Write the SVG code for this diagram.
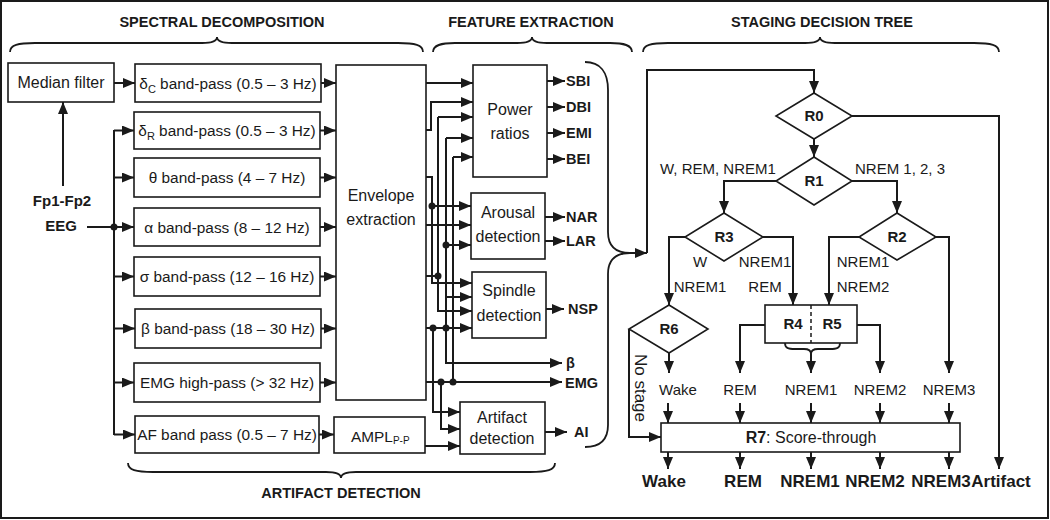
<svg xmlns="http://www.w3.org/2000/svg" width="1050" height="520" viewBox="0 0 1050 520">
<style>
.box{fill:#fff;stroke:#1a1a1a;stroke-width:1.6}
.ln{fill:none;stroke:#1a1a1a;stroke-width:2}
.br{fill:none;stroke:#1a1a1a;stroke-width:1.8}
.a{marker-end:url(#ah)}
.t{font-family:"Liberation Sans",Arial,sans-serif;font-size:16px;fill:#1a1a1a}
.bt{font-family:"Liberation Sans",Arial,sans-serif;font-size:15.4px;fill:#1a1a1a}
.ti{font-family:"Liberation Sans",Arial,sans-serif;font-size:14.5px;font-weight:bold;fill:#1a1a1a}
.o{font-family:"Liberation Sans",Arial,sans-serif;font-size:14.5px;font-weight:bold;fill:#1a1a1a}
.lb{font-family:"Liberation Sans",Arial,sans-serif;font-size:15px;fill:#1a1a1a}
.fb{font-family:"Liberation Sans",Arial,sans-serif;font-size:17px;font-weight:bold;fill:#1a1a1a}
.rb{font-family:"Liberation Sans",Arial,sans-serif;font-size:15px;font-weight:bold;fill:#1a1a1a}
.m{text-anchor:middle}
.dot{fill:#1a1a1a}
</style>
<defs>
<marker id="ah" markerUnits="userSpaceOnUse" markerWidth="12" markerHeight="10" refX="12" refY="5" orient="auto"><path d="M0,0 L12,5 L0,10 z" fill="#1a1a1a"/></marker>
</defs>
<rect x="1" y="1" width="1047" height="517" fill="#fff" stroke="#1a1a1a" stroke-width="2"/>

<g id="titles">
<text class="ti m" x="222" y="27">SPECTRAL DECOMPOSITION</text>
<text class="ti m" x="531" y="27">FEATURE EXTRACTION</text>
<text class="ti m" x="822" y="27">STAGING DECISION TREE</text>
<text class="ti m" x="341" y="498">ARTIFACT DETECTION</text>
<path class="br" d="M10,52 C10,45 18,43 35,43 L202,43 C212,43 217,41 217,37 C217,41 222,43 232,43 L398,43 C415,43 423,45 423,52"/>
<path class="br" d="M433,52 C433,45 441,43 455,43 L517,43 C527,43 532,41 532,37 C532,41 537,43 547,43 L610,43 C624,43 632,45 632,52"/>
<path class="br" d="M643,52 C643,45 651,43 668,43 L805,43 C815,43 820,41 820,37 C820,41 825,43 835,43 L974,43 C991,43 999,45 999,52"/>
<path class="br" d="M128,463 C128,470 136,472 153,472 L326,472 C336,472 341,474 341,478 C341,474 346,472 356,472 L530,472 C547,472 555,470 555,463"/>
<path class="br" d="M585,62 C600,62 608,72 608,90 L608,232 C608,246 616,253 630,253 C616,253 608,260 608,274 L608,425 C608,440 600,447 585,447"/>
</g>

<g id="inputs">
<text class="t" x="62" y="206" style="font-weight:bold;font-size:15px" text-anchor="middle">Fp1-Fp2</text>
<text class="t" x="61" y="231" style="font-weight:bold;font-size:15px" text-anchor="middle">EEG</text>
</g>

<g id="median"><rect class="box" x="8" y="63" width="106" height="39"/><text class="t m" x="61" y="88">Median filter</text></g>

<g id="bandC"><rect class="box" x="135" y="64" width="186" height="38"/><text class="bt m" x="228" y="88.5">δ<tspan font-size="11" dy="4">C</tspan><tspan dy="-4"> band-pass (0.5 – 3 Hz)</tspan></text></g>
<g id="bandR"><rect class="box" x="134" y="112" width="186" height="37"/><text class="bt m" x="227" y="136">δ<tspan font-size="11" dy="4">R</tspan><tspan dy="-4"> band-pass (0.5 – 3 Hz)</tspan></text></g>
<g id="theta"><rect class="box" x="134" y="158" width="186" height="39"/><text class="bt m" x="227" y="183">θ band-pass (4 – 7 Hz)</text></g>
<g id="alpha"><rect class="box" x="134" y="208" width="186" height="38"/><text class="bt m" x="227" y="232.5">α band-pass (8 – 12 Hz)</text></g>
<g id="sigma"><rect class="box" x="134" y="257" width="186" height="39"/><text class="bt m" x="227" y="282">σ band-pass (12 – 16 Hz)</text></g>
<g id="beta"><rect class="box" x="135" y="309" width="186" height="39"/><text class="bt m" x="228" y="334">β band-pass (18 – 30 Hz)</text></g>
<g id="emg"><rect class="box" x="134" y="363" width="186" height="39"/><text class="bt m" x="227" y="388">EMG high-pass (&gt; 32 Hz)</text></g>
<g id="af"><rect class="box" x="135" y="416" width="184" height="37"/><text class="bt m" x="227" y="440">AF band pass (0.5 – 7 Hz)</text></g>

<g id="envelope"><rect class="box" x="336" y="65" width="90" height="335"/><text class="t m" x="381" y="201">Envelope</text><text class="t m" x="381" y="225">extraction</text></g>
<g id="ampl"><rect class="box" x="334" y="417" width="91" height="36"/><text class="t" x="351" y="442" style="font-size:15.4px">AMPL<tspan font-size="10" dy="2">P-P</tspan></text></g>

<g id="power"><rect class="box" x="473" y="65" width="74" height="112"/><text class="t m" x="510" y="115">Power</text><text class="t m" x="510" y="139">ratios</text></g>
<g id="arousal"><rect class="box" x="471" y="193" width="74" height="66"/><text class="t m" x="508" y="218">Arousal</text><text class="t m" x="508" y="242">detection</text></g>
<g id="spindle"><rect class="box" x="472" y="272" width="74" height="66"/><text class="t m" x="509" y="296">Spindle</text><text class="t m" x="509" y="321">detection</text></g>
<g id="artifact"><rect class="box" x="460" y="402" width="85" height="52"/><text class="t m" x="502" y="423">Artifact</text><text class="t m" x="502" y="444">detection</text></g>

<g id="outputs">
<text class="o" x="566" y="86">SBI</text>
<text class="o" x="566" y="112">DBI</text>
<text class="o" x="566" y="138">EMI</text>
<text class="o" x="566" y="164">BEI</text>
<text class="o" x="566" y="222">NAR</text>
<text class="o" x="566" y="246">LAR</text>
<text class="o" x="568" y="314">NSP</text>
<text class="o" x="566" y="368">β</text>
<text class="o" x="565" y="388">EMG</text>
<text class="o" x="574" y="437">AI</text>
</g>

<g id="R0"><polygon class="box" points="814,93 852,116 814,139 776,116"/><text class="rb m" x="814" y="121">R0</text></g>
<g id="R1"><polygon class="box" points="814,157 852,181 814,205 776,181"/><text class="rb m" x="814" y="186">R1</text></g>
<g id="R3"><polygon class="box" points="724,213 763,237 724,261 685,237"/><text class="rb m" x="724" y="242">R3</text></g>
<g id="R2"><polygon class="box" points="897,213 936,237 897,260 859,237"/><text class="rb m" x="897" y="242">R2</text></g>
<g id="R6"><polygon class="box" points="669,305 708,329 669,353 629,329"/><text class="rb m" x="669" y="334">R6</text></g>
<g id="R45"><rect class="box" x="765" y="305" width="92" height="38"/><line x1="811" y1="305" x2="811" y2="343" stroke="#1a1a1a" stroke-width="1.5" stroke-dasharray="4,3"/><text class="rb m" x="793" y="329">R4</text><text class="rb m" x="832" y="329">R5</text></g>
<g id="R7"><rect class="box" x="661" y="423" width="299" height="29"/><text class="t m" x="811" y="443"><tspan font-weight="bold">R7</tspan>: Score-through</text></g>

<g id="tree-labels">
<text class="lb" x="660" y="174">W, REM, NREM1</text>
<text class="lb" x="855" y="174">NREM 1, 2, 3</text>
<text class="lb m" x="700" y="267">W</text>
<text class="lb m" x="765" y="267">NREM1</text>
<text class="lb m" x="700" y="292">NREM1</text>
<text class="lb m" x="765" y="292">REM</text>
<text class="lb m" x="863" y="267">NREM1</text>
<text class="lb m" x="863" y="292">NREM2</text>
<text class="lb m" x="678" y="395">Wake</text>
<text class="lb m" x="740" y="395">REM</text>
<text class="lb m" x="811" y="395">NREM1</text>
<text class="lb m" x="880" y="395">NREM2</text>
<text class="lb m" x="949" y="395">NREM3</text>
<text class="t m" x="0" y="0" style="font-size:17px" transform="translate(635,388) rotate(90)">No stage</text>
<text class="fb m" x="664" y="487">Wake</text>
<text class="fb m" x="743" y="487">REM</text>
<text class="fb m" x="810" y="487">NREM1</text>
<text class="fb m" x="875" y="487">NREM2</text>
<text class="fb m" x="941" y="487">NREM3</text>
<text class="fb m" x="1001" y="487">Artifact</text>
</g>

<g id="connectors">
<path class="ln a" d="M114,83 H135"/>
<path class="ln a" d="M63,186 V102"/>
<path class="ln" d="M87,227 H114 M114,130 V435"/>
<circle class="dot" cx="114" cy="227" r="3.5"/>
<path class="ln a" d="M114,130.5 H134"/>
<path class="ln a" d="M114,177.5 H134"/>
<path class="ln a" d="M114,227 H134"/>
<path class="ln a" d="M114,276.5 H134"/>
<path class="ln a" d="M114,328.5 H135"/>
<path class="ln a" d="M114,382.5 H134"/>
<path class="ln a" d="M114,434.5 H135"/>
<path class="ln a" d="M321,83 H336"/>
<path class="ln a" d="M320,130.5 H336"/>
<path class="ln a" d="M320,177.5 H336"/>
<path class="ln a" d="M320,227 H336"/>
<path class="ln a" d="M320,276.5 H336"/>
<path class="ln a" d="M321,328.5 H336"/>
<path class="ln a" d="M320,382.5 H336"/>
<path class="ln a" d="M319,434.5 H334"/>

<path class="ln a" d="M426,83 H473"/>
<path class="ln a" d="M426,130 H431 V102 H473"/>
<path class="ln a" d="M438,117 H473"/>
<path class="ln a" d="M438,117 V311 H472"/>
<path class="ln" d="M426,276 H438"/>
<circle class="dot" cx="438" cy="276" r="3.5"/>
<path class="ln a" d="M426,177 H432 V283 H472"/>
<path class="ln a" d="M432,206 H471"/>
<circle class="dot" cx="432" cy="206" r="3.5"/>
<path class="ln a" d="M426,225 H471"/>
<path class="ln a" d="M446,138 H473"/>
<path class="ln a" d="M446,138 V363 H562"/>
<path class="ln a" d="M446,245 H471"/>
<circle class="dot" cx="446" cy="245" r="3.5"/>
<path class="ln a" d="M446,297 H472"/>
<path class="ln a" d="M426,328 H472"/>
<circle class="dot" cx="433" cy="328" r="3.5"/>
<circle class="dot" cx="446" cy="328" r="3.5"/>
<path class="ln a" d="M433,328 V412 H460"/>
<path class="ln a" d="M453,157 H473"/>
<path class="ln" d="M453,157 V382"/>
<path class="ln a" d="M426,382 H562"/>
<circle class="dot" cx="441" cy="382" r="3.5"/>
<circle class="dot" cx="453" cy="382" r="3.5"/>
<path class="ln a" d="M441,382 V429 H460"/>
<path class="ln a" d="M425,446 H460"/>

<path class="ln a" d="M547,81 H565"/>
<path class="ln a" d="M547,107 H565"/>
<path class="ln a" d="M547,133 H565"/>
<path class="ln a" d="M547,159 H565"/>
<path class="ln a" d="M545,217 H565"/>
<path class="ln a" d="M545,241 H565"/>
<path class="ln a" d="M546,309 H564"/>
<path class="ln a" d="M545,432 H567"/>

<path class="ln a" d="M630,253 H647"/>
<path class="ln a" d="M647,253 V70 H814 V93"/>
<path class="ln a" d="M814,139 V157"/>
<path class="ln a" d="M852,116 H999 V469"/>
<path class="ln a" d="M776,181 H724 V213"/>
<path class="ln a" d="M852,181 H897 V213"/>
<path class="ln a" d="M685,237 H669 V305"/>
<path class="ln a" d="M763,237 H793 V305"/>
<path class="ln a" d="M859,237 H829 V305"/>
<path class="ln a" d="M936,237 H949 V373"/>
<path class="ln a" d="M765,325 H740 V373"/>
<path class="ln a" d="M857,325 H880 V373"/>
<path class="br" d="M785,343 C785,348 788,349 795,349 L804,349 C809,349 811,351 811,354 C811,351 813,349 818,349 L830,349 C837,349 840,348 840,343"/>
<path class="ln a" d="M811,354 V373"/>
<path class="ln a" d="M669,353 V373"/>
<path class="ln a" d="M629,329 V437 H661"/>
<path class="ln a" d="M668,403 V423"/>
<path class="ln a" d="M740,403 V423"/>
<path class="ln a" d="M811,403 V423"/>
<path class="ln a" d="M880,403 V423"/>
<path class="ln a" d="M949,403 V423"/>
<path class="ln a" d="M668,452 V469"/>
<path class="ln a" d="M740,452 V469"/>
<path class="ln a" d="M811,452 V469"/>
<path class="ln a" d="M880,452 V469"/>
<path class="ln a" d="M949,452 V469"/>
</g>
</svg>
